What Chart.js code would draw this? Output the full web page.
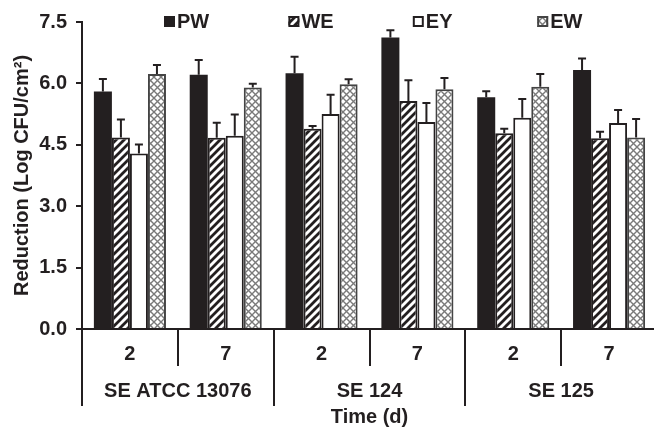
<!DOCTYPE html>
<html><head><meta charset="utf-8">
<script src="https://cdn.jsdelivr.net/npm/chart.js@4"></script>
<style>html,body{margin:0;padding:0;overflow:hidden;background:#fff}</style>
</head><body>
<canvas id="c" width="660" height="429"></canvas>
<script>
// ---- data ----
const categories = ['2', '7', '2', '7', '2', '7'];
const groups = ['SE ATCC 13076', 'SE 124', 'SE 125'];
const seriesNames = ['PW', 'WE', 'EY', 'EW'];
const pwValues = [5.80, 6.21, 6.25, 7.12, 5.66, 6.33];
const pwErrors = [0.31, 0.36, 0.40, 0.18, 0.15, 0.28];
const weValues = [4.68, 4.67, 4.89, 5.57, 4.78, 4.66];
const weErrors = [0.44, 0.37, 0.07, 0.51, 0.11, 0.16];
const eyValues = [4.29, 4.72, 5.25, 5.06, 5.16, 5.03];
const eyErrors = [0.22, 0.52, 0.47, 0.46, 0.46, 0.32];
const ewValues = [6.23, 5.90, 5.98, 5.86, 5.92, 4.68];
const ewErrors = [0.22, 0.09, 0.12, 0.27, 0.31, 0.45];
const yTicks = [0, 1.5, 3.0, 4.5, 6.0, 7.5];
const yTitle = 'Reduction (Log CFU/cm\u00B2)';
const xTitle = 'Time (d)';

// ---- styles ----
const INK = '#231f20';
const FONT = '"Liberation Sans", Arial, sans-serif';

function stripePattern() {
  const c = document.createElement('canvas'); c.width = 8; c.height = 8;
  const g = c.getContext('2d');
  g.fillStyle = '#fff'; g.fillRect(0, 0, 8, 8);
  g.strokeStyle = INK; g.lineWidth = 2.8; g.lineCap = 'square';
  g.beginPath();
  g.moveTo(-2, 10); g.lineTo(10, -2);
  g.moveTo(-6, 6); g.lineTo(6, -6);
  g.moveTo(2, 14); g.lineTo(14, 2);
  g.stroke();
  return g.createPattern(c, 'repeat');
}
function crossPattern() {
  const c = document.createElement('canvas'); c.width = 7; c.height = 7;
  const g = c.getContext('2d');
  g.fillStyle = '#fff'; g.fillRect(0, 0, 7, 7);
  g.strokeStyle = '#7a7a7a'; g.lineWidth = 1.4;
  g.beginPath();
  g.moveTo(-1, -1); g.lineTo(8, 8);
  g.moveTo(-1, 8); g.lineTo(8, -1);
  g.stroke();
  return g.createPattern(c, 'repeat');
}

const fills = [INK, stripePattern(), '#ffffff', crossPattern()];
const borders = [INK, INK, INK, '#444444'];
const borderWidths = [0, 2, 2, 2];
const valueSets = [pwValues, weValues, eyValues, ewValues];
const errorSets = [pwErrors, weErrors, eyErrors, ewErrors];

const datasets = seriesNames.map((name, i) => ({
  label: name,
  data: valueSets[i],
  errors: errorSets[i],
  backgroundColor: fills[i],
  borderColor: borders[i],
  borderWidth: borderWidths[i],
  borderSkipped: 'start',
  barPercentage: 1.0,
  categoryPercentage: 0.752
}));

const decor = {
  id: 'decor',
  afterDatasetsDraw(chart) {
    const ctx = chart.ctx, ys = chart.scales.y;
    chart.data.datasets.forEach((ds, i) => {
      const meta = chart.getDatasetMeta(i);
      meta.data.forEach((bar, j) => {
        const base = ys.getPixelForValue(ds.data[j]);
        const top = ys.getPixelForValue(ds.data[j] + ds.errors[j]);
        ctx.save();
        ctx.strokeStyle = INK; ctx.lineWidth = 2;
        ctx.beginPath();
        ctx.moveTo(bar.x, base); ctx.lineTo(bar.x, top);
        ctx.moveTo(bar.x - 4, top); ctx.lineTo(bar.x + 4, top);
        ctx.stroke();
        ctx.restore();
      });
    });
  },
  afterDraw(chart) {
    const ctx = chart.ctx, xs = chart.scales.x, ca = chart.chartArea;
    ctx.save();
    ctx.strokeStyle = INK; ctx.lineWidth = 2;
    for (let j = 0; j <= categories.length; j++) {
      const px = Math.round(xs.getPixelForValue(j - 0.5));
      const yEnd = (j % 2 === 0) ? 406 : 366;
      ctx.beginPath(); ctx.moveTo(px, ca.bottom); ctx.lineTo(px, yEnd); ctx.stroke();
    }
    ctx.fillStyle = INK;
    ctx.font = 'bold 20px ' + FONT;
    ctx.textAlign = 'center'; ctx.textBaseline = 'middle';
    groups.forEach((g, k) => {
      ctx.fillText(g, xs.getPixelForValue(2 * k + 0.5), 391);
    });
    // legend
    ctx.textAlign = 'left';
    chart.data.datasets.forEach((ds, i) => {
      const bx = 164 + i * 124.4, by = 16;
      ctx.fillStyle = ds.backgroundColor;
      ctx.fillRect(bx, by, 11, 11);
      ctx.strokeStyle = ds.borderWidth ? ds.borderColor : INK;
      ctx.lineWidth = 2;
      ctx.strokeRect(bx + 1, by + 1, 9, 9);
      ctx.fillStyle = INK;
      ctx.fillText(ds.label, bx + 13, by + 6);
    });
    ctx.restore();
  }
};

new Chart(document.getElementById('c'), {
  type: 'bar',
  data: { labels: categories, datasets },
  options: {
    responsive: false,
    devicePixelRatio: 1,
    animation: false,
    layout: { padding: { top: 22, right: 3, left: 0, bottom: 0 } },
    plugins: { legend: { display: false }, tooltip: { enabled: false } },
    scales: {
      x: {
        offset: true,
        grid: { display: false, drawTicks: false },
        border: { display: true, color: INK, width: 2 },
        ticks: { color: INK, font: { family: FONT, size: 20, weight: 'bold' }, padding: 13, maxRotation: 0, autoSkip: false },
        title: { display: true, text: xTitle, color: INK, font: { family: FONT, size: 20, weight: 'bold' }, padding: { top: 0, bottom: 0 } },
        afterFit(s) { s.height = 100; }
      },
      y: {
        min: 0, max: 7.5,
        afterBuildTicks(s) { s.ticks = yTicks.map(v => ({ value: v })); },
        grid: { drawOnChartArea: false, drawTicks: true, tickLength: 6, color: INK, lineWidth: 2 },
        border: { display: true, color: INK, width: 2 },
        ticks: { color: INK, font: { family: FONT, size: 20, weight: 'bold' }, padding: 9, callback: v => Number(v).toFixed(1) },
        title: { display: true, text: yTitle, color: INK, font: { family: FONT, size: 20, weight: 'bold' }, padding: { top: 10, bottom: 0 } },
        afterFit(s) { s.width = 82; }
      }
    }
  },
  plugins: [decor]
});
</script>
</body></html>
